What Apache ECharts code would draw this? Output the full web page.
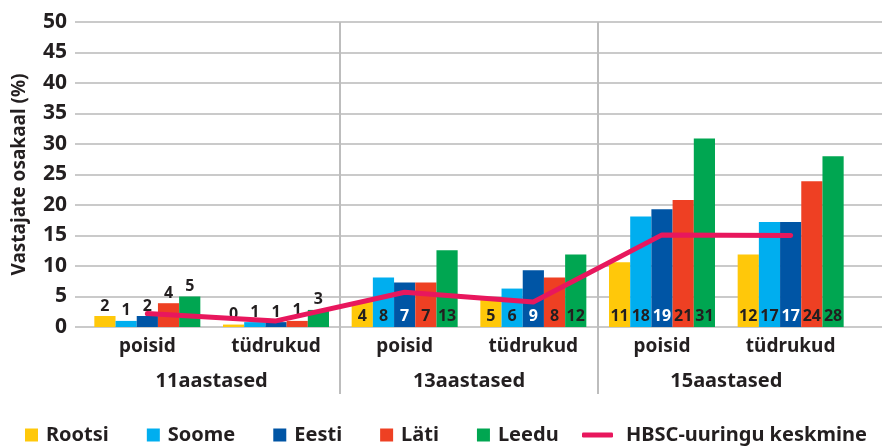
<!DOCTYPE html>
<html><head><meta charset="utf-8">
<script src="https://cdn.jsdelivr.net/npm/echarts@6/dist/echarts.min.js"></script>
<style>html,body{margin:0;padding:0;background:#fff}#chart{width:882px;height:448px}</style>
</head><body><div id="chart"></div>
<script>
const categories = ['poisid', 'tüdrukud', 'poisid', 'tüdrukud', 'poisid', 'tüdrukud'];
const ageGroups = ['11aastased', '13aastased', '15aastased'];
const yMin = 0, yMax = 50, yStep = 5;

const rootsi = [1.8, 0.4, 4.1, 4.9, 10.6, 11.9];
const soome  = [1.0, 0.8, 8.1, 6.3, 18.1, 17.2];
const eesti  = [1.8, 0.8, 7.3, 9.3, 19.3, 17.2];
const lati   = [3.9, 1.0, 7.3, 8.1, 20.8, 23.9];
const leedu  = [5.0, 2.8, 12.6, 11.9, 30.9, 28.0];
const hbsc   = [2.2, 1.0, 5.7, 4.1, 15.1, 15.0];

const rootsiLabels = [2, 0, 4, 5, 11, 12];
const soomeLabels  = [1, 1, 8, 6, 18, 17];
const eestiLabels  = [2, 1, 7, 9, 19, 17];
const latiLabels   = [4, 1, 7, 8, 21, 24];
const leeduLabels  = [5, 3, 13, 12, 31, 28];

const FONT = 'Noto Sans';
const TXT = '#231f20';

function barSeries(name, values, labels, color, innerLabelColor) {
  return {
    name: name, type: 'bar', xAxisIndex: 0, yAxisIndex: 0,
    barWidth: 21.2, barGap: '0%',
    itemStyle: { color: color },
    label: {
      show: true, fontFamily: FONT, fontWeight: 'bold', fontSize: 16, lineHeight: 16,
      formatter: p => String(labels[p.dataIndex])
    },
    data: values.map((v, i) => ({
      value: v,
      label: i < 2
        ? { position: 'top', distance: 2, color: TXT }
        : { position: 'insideBottom', distance: 3, color: innerLabelColor }
    }))
  };
}

const chart = echarts.init(document.getElementById('chart'), null, { renderer: 'canvas' });
chart.setOption({
  animation: false,
  backgroundColor: '#fff',
  textStyle: { fontFamily: FONT },
  grid: [
    { left: 83, right: 27, top: 22, bottom: 121, outerBoundsMode: 'none' },
    { left: 75, right: 0, top: 22, bottom: 121, outerBoundsMode: 'none' },
    { left: 340, right: 284, top: 22, bottom: 54, outerBoundsMode: 'none' }
  ],
  xAxis: [
    { gridIndex: 0, type: 'category', data: categories,
      axisLine: { show: false }, axisTick: { show: false }, splitLine: { show: false },
      axisLabel: { margin: 10, fontSize: 19, fontWeight: 'bold', color: TXT, fontFamily: FONT } },
    { gridIndex: 0, type: 'category', data: ageGroups, position: 'bottom',
      axisLine: { show: false }, axisTick: { show: false }, splitLine: { show: false },
      axisLabel: { margin: 44, fontSize: 20, fontWeight: 'bold', color: TXT, fontFamily: FONT } },
    { gridIndex: 1, type: 'value', min: 0, max: 1, show: false },
    { gridIndex: 2, type: 'value', min: 2, max: 4, interval: 2,
      axisLine: { show: false }, axisTick: { show: false }, axisLabel: { show: false },
      splitLine: { show: true, lineStyle: { color: '#bdbdbd', width: 2 } } }
  ],
  yAxis: [
    { gridIndex: 0, type: 'value', min: yMin, max: yMax, interval: yStep, show: false },
    { gridIndex: 1, type: 'value', min: yMin, max: yMax, interval: yStep,
      axisLine: { show: false }, axisTick: { show: false },
      axisLabel: { margin: 8, fontSize: 21, fontWeight: 'bold', color: TXT, fontFamily: FONT },
      splitLine: { show: true, lineStyle: { color: '#b8b8b8', width: 1.5 } },
      name: 'Vastajate osakaal (%)', nameLocation: 'middle', nameGap: 46,
      nameTextStyle: { fontSize: 19, fontWeight: 'bold', color: TXT, fontFamily: FONT } },
    { gridIndex: 2, type: 'value', min: 0, max: 1, show: false }
  ],
  legend: [
    { data: ['Rootsi', 'Soome', 'Eesti', 'Läti', 'Leedu'], left: 25, top: 424, padding: 0,
      orient: 'horizontal', icon: 'rect', itemWidth: 13, itemHeight: 13, itemGap: 38,
      selectedMode: false,
      textStyle: { fontSize: 20, fontWeight: 'bold', color: TXT, fontFamily: FONT, lineHeight: 22, padding: [0, 0, 0, 3] } },
    { data: ['HBSC-uuringu keskmine'], left: 582, top: 424, padding: 0,
      icon: 'roundRect', itemWidth: 31, itemHeight: 5, selectedMode: false,
      textStyle: { fontSize: 20, fontWeight: 'bold', color: TXT, fontFamily: FONT, lineHeight: 22, padding: [0, 0, 0, 8] } }
  ],
  series: [
    barSeries('Rootsi', rootsi, rootsiLabels, '#ffc80a', TXT),
    barSeries('Soome', soome, soomeLabels, '#00aeef', TXT),
    barSeries('Eesti', eesti, eestiLabels, '#0055a5', '#ffffff'),
    barSeries('Läti', lati, latiLabels, '#ee4023', TXT),
    barSeries('Leedu', leedu, leeduLabels, '#00a651', TXT),
    { name: 'HBSC-uuringu keskmine', type: 'line', xAxisIndex: 0, yAxisIndex: 0,
      data: hbsc, symbol: 'none', showSymbol: false, z: 5,
      itemStyle: { color: '#e8175d' },
      lineStyle: { color: '#e8175d', width: 5, cap: 'round', join: 'round' } }
  ]
});
</script>
</body></html>
